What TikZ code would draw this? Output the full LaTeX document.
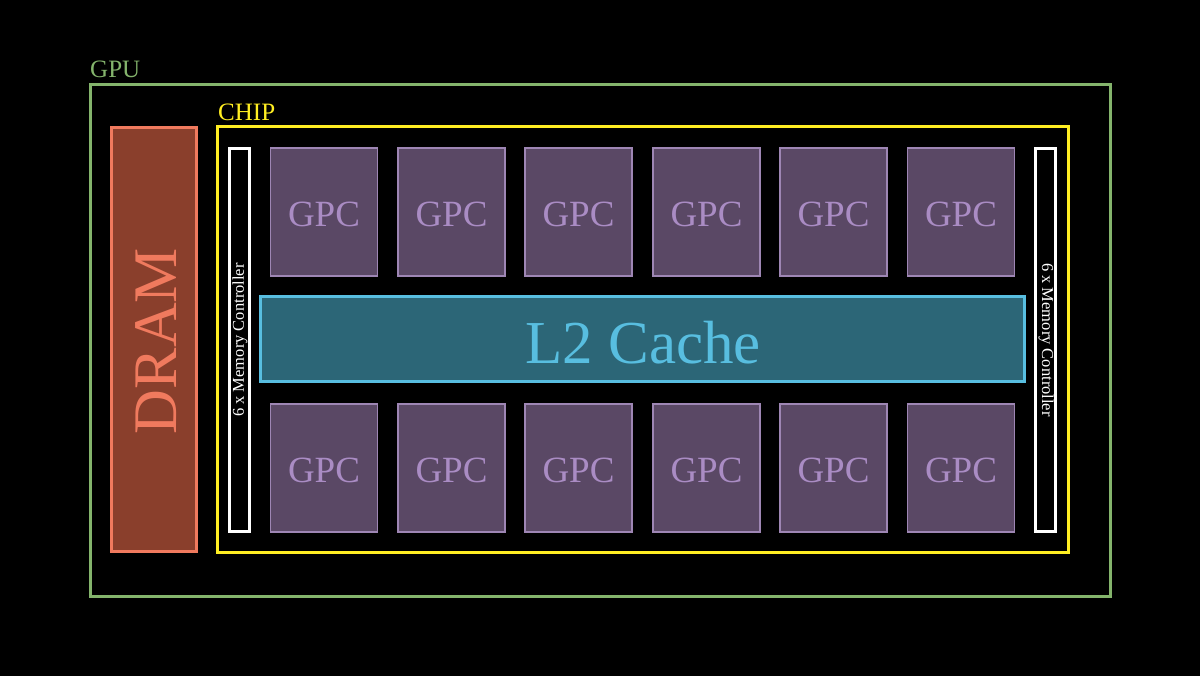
\documentclass[tikz,border=0pt]{standalone}
\usepackage{fontspec}
\setmainfont{Liberation Serif}
\definecolor{gpugreen}{HTML}{84B46C}
\definecolor{chipyellow}{HTML}{FFEE22}
\definecolor{dramfill}{HTML}{8A3F2C}
\definecolor{dramline}{HTML}{F07A5E}
\definecolor{gpcfill}{HTML}{5A4865}
\definecolor{gpcline}{HTML}{9E86B4}
\definecolor{gpctext}{HTML}{AA8CC4}
\definecolor{l2fill}{HTML}{2C6677}
\definecolor{l2line}{HTML}{58BEE0}
\begin{document}
\begin{tikzpicture}[x=1pt,y=-1pt,
  box/.style={rectangle,inner sep=0pt,outer sep=0pt},
  gpc/.style={box,draw=gpcline,line width=1.6pt,fill=gpcfill,
    minimum width=107pt,minimum height=128pt},
  gpctxt/.style={text=gpctext,inner sep=0pt,font=\fontsize{37}{37}\selectfont},
  mc/.style={box,draw=white,line width=3pt,fill=black,
    minimum width=20pt,minimum height=382pt},
  mctext/.style={text=white,font=\fontsize{16.5}{16.5}\selectfont,inner sep=0pt},
  lbl/.style={anchor=south west,inner sep=0pt,font=\fontsize{25}{25}\selectfont}]
\fill[black] (0,0) rectangle (1200,676);
\useasboundingbox (0,0) rectangle (1200,676);
% GPU
\node[box,draw=gpugreen,line width=3pt,minimum width=1020pt,minimum height=511pt] (gpu) at (600,340.5) {};
\node[lbl,text=gpugreen] (gpulbl) at (90,78) {GPU};
% CHIP
\node[box,draw=chipyellow,line width=3pt,minimum width=851pt,minimum height=425pt] (chip) at (642.5,339.5) {};
\node[lbl,text=chipyellow] (chiplbl) at (218,121) {CHIP};
% DRAM
\node[box,draw=dramline,fill=dramfill,line width=3pt,minimum width=85pt,minimum height=424pt] (dram) at (154,339.5) {};
\node[text=dramline,rotate=90,font=\fontsize{62}{62}\selectfont,inner sep=0pt] (dramtxt) at (156,341) {DRAM};
% memory controllers
\node[mc] (mcl) at (239.5,340) {};
\node[mctext,rotate=90] (mcltxt) at (240,340) {6 x Memory Controller};
\node[mc] (mcr) at (1045.5,340) {};
\node[mctext,rotate=-90] (mcrtxt) at (1046,340) {6 x Memory Controller};
% L2
\node[box,draw=l2line,fill=l2fill,line width=3pt,minimum width=764pt,minimum height=85pt] (l2) at (642.5,339.5) {};
\node[text=l2line,inner sep=0pt,font=\fontsize{61}{61}\selectfont] (l2txt) at (643,343) {L2 Cache};
% GPCs
\foreach \i/\x in {1/324,2/451.5,3/578.5,4/706.5,5/833.5,6/961}{
  \node[gpc] (gpct\i) at (\x,212) {};
  \node[gpctxt] (gpctt\i) at (\x,214) {GPC};
  \node[gpc] (gpcb\i) at (\x,468) {};
  \node[gpctxt] (gpcbt\i) at (\x,470) {GPC};
}
\end{tikzpicture}
\end{document}
